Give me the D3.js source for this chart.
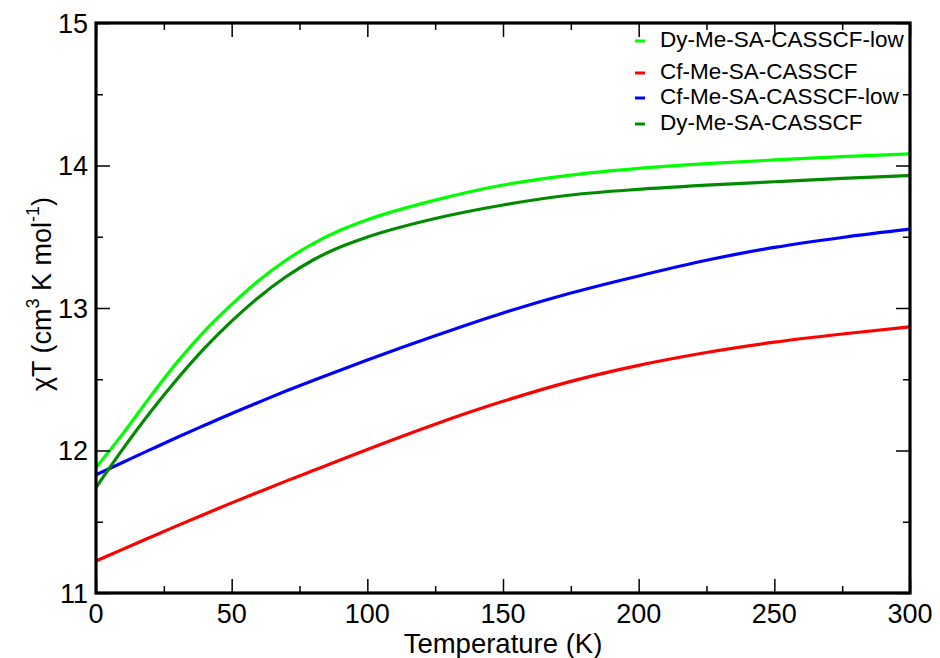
<!DOCTYPE html>
<html>
<head>
<meta charset="utf-8">
<script src="https://cdn.jsdelivr.net/npm/d3@7"></script>
<style>
  html, body { margin: 0; padding: 0; background: #fff; }
  svg text { font-family: "Liberation Sans", Arial, Helvetica, sans-serif; fill: #000; }
</style>
</head>
<body>
<svg id="chart" width="940" height="658"></svg>
<script>
// Temperature grid (K)
const temps = [0, 10, 20, 30, 40, 50, 60, 70, 80, 90, 100, 125, 150, 175, 200, 225, 250, 275, 300];

// chi*T curves (cm^3 K mol^-1) on the temperature grid
const dyLow = [11.88, 12.12, 12.378, 12.622, 12.838, 13.025, 13.193, 13.335, 13.452, 13.545, 13.619, 13.757, 13.863, 13.933, 13.98, 14.013, 14.039, 14.062, 14.082];
const cf    = [11.225, 11.308, 11.391, 11.473, 11.553, 11.6325, 11.709, 11.785, 11.859, 11.933, 12.0075, 12.185, 12.345, 12.485, 12.5975, 12.6875, 12.76, 12.8175, 12.8675];
const cfLow = [11.83, 11.918, 12.006, 12.093, 12.177, 12.26, 12.339, 12.417, 12.492, 12.564, 12.635, 12.805, 12.965, 13.105, 13.225, 13.335, 13.425, 13.495, 13.553];
const dy    = [11.74, 12.013, 12.268, 12.503, 12.718, 12.908, 13.076, 13.219, 13.337, 13.428, 13.498, 13.628, 13.723, 13.793, 13.833, 13.862, 13.886, 13.909, 13.93];

// Legend order and styling
const seriesNames = ["Dy-Me-SA-CASSCF-low", "Cf-Me-SA-CASSCF", "Cf-Me-SA-CASSCF-low", "Dy-Me-SA-CASSCF"];
const seriesValues = [dyLow, cf, cfLow, dy];
const seriesColors = ["#00ff00", "#ff0000", "#0000ff", "#008b00"];

// Axis ticks
const xMajor = [0, 50, 100, 150, 200, 250, 300];
const xMinor = [25, 75, 125, 175, 225, 275];
const yMajor = [11, 12, 13, 14, 15];
const yMinor = [11.5, 12.5, 13.5, 14.5];

const svg = d3.select("#chart");
const plotL = 96, plotR = 910, plotT = 23, plotB = 593;

const x = d3.scaleLinear().domain([0, 300]).range([plotL, plotR]);
const y = d3.scaleLinear().domain([11, 15]).range([plotB, plotT]);

svg.append("defs").append("clipPath").attr("id", "plotClip")
  .append("rect").attr("x", plotL).attr("y", plotT)
  .attr("width", plotR - plotL).attr("height", plotB - plotT);

// Curves
const line = d3.line()
  .x(d => x(d[0]))
  .y(d => y(d[1]))
  .curve(d3.curveMonotoneX);

const curves = svg.append("g").attr("clip-path", "url(#plotClip)");
seriesValues.forEach((vals, i) => {
  curves.append("path")
    .datum(temps.map((t, k) => [t, vals[k]]))
    .attr("fill", "none")
    .attr("stroke", seriesColors[i])
    .attr("stroke-width", 3.2)
    .attr("stroke-linejoin", "round")
    .attr("d", line);
});

// Inward ticks on all four sides
const majorLen = 14, minorLen = 7;
function tickAxes(axisFn, scale, values, size, translate) {
  const g = svg.append("g").attr("transform", translate)
    .call(axisFn(scale).tickValues(values).tickSize(size).tickFormat(""));
  g.select(".domain").remove();
  g.selectAll(".tick line").attr("stroke", "#000").attr("stroke-width", 1.5);
  g.selectAll(".tick text").remove();
  return g;
}
// bottom
tickAxes(d3.axisTop, x, xMajor, majorLen, `translate(0,${plotB})`);
tickAxes(d3.axisTop, x, xMinor, minorLen, `translate(0,${plotB})`);
// top
tickAxes(d3.axisBottom, x, xMajor, majorLen, `translate(0,${plotT})`);
tickAxes(d3.axisBottom, x, xMinor, minorLen, `translate(0,${plotT})`);
// left
tickAxes(d3.axisRight, y, yMajor, majorLen, `translate(${plotL},0)`);
tickAxes(d3.axisRight, y, yMinor, minorLen, `translate(${plotL},0)`);
// right
tickAxes(d3.axisLeft, y, yMajor, majorLen, `translate(${plotR},0)`);
tickAxes(d3.axisLeft, y, yMinor, minorLen, `translate(${plotR},0)`);

// Frame
svg.append("rect")
  .attr("x", plotL).attr("y", plotT)
  .attr("width", plotR - plotL).attr("height", plotB - plotT)
  .attr("fill", "none").attr("stroke", "#000").attr("stroke-width", 3.2);

// Tick labels
svg.append("g").selectAll("text").data(xMajor).join("text")
  .attr("x", d => x(d)).attr("y", 623)
  .attr("text-anchor", "middle")
  .style("font-size", "27px")
  .text(d => d);

svg.append("g").selectAll("text").data(yMajor).join("text")
  .attr("x", 88).attr("y", d => y(d) + 9.5)
  .attr("text-anchor", "end")
  .style("font-size", "27px")
  .text(d => d);

// Axis titles
svg.append("text")
  .attr("x", (plotL + plotR) / 2).attr("y", 653)
  .attr("text-anchor", "middle")
  .style("font-size", "27.5px")
  .text("Temperature (K)");

const yTitle = svg.append("text")
  .attr("transform", "translate(51,294) rotate(-90)")
  .attr("text-anchor", "middle")
  .style("font-size", "27px");
yTitle.append("tspan").text("\u03C7T (cm");
yTitle.append("tspan").attr("dy", -12).style("font-size", "18px").text("3");
yTitle.append("tspan").attr("dy", 12).text(" K mol");
yTitle.append("tspan").attr("dy", -12).style("font-size", "18px").text("-1");
yTitle.append("tspan").attr("dy", 12).text(")");

// Legend
const legendRows = [39, 71, 96, 122];
const legend = svg.append("g");
seriesNames.forEach((name, i) => {
  const cy = legendRows[i];
  legend.append("line")
    .attr("x1", 635).attr("x2", 645)
    .attr("y1", cy + 2).attr("y2", cy + 2)
    .attr("stroke", seriesColors[i]).attr("stroke-width", 3);
  legend.append("text")
    .attr("x", 660).attr("y", cy + 8)
    .style("font-size", "22.5px")
    .text(name);
});
</script>
</body>
</html>
